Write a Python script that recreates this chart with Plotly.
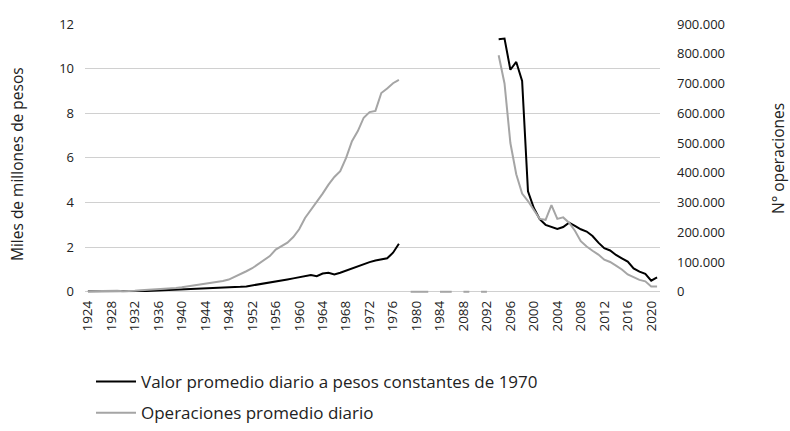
import plotly.graph_objects as go

years = list(range(1924, 2022))

# Valor promedio diario (miles de millones de pesos de 1970), left axis
valor_early = [0.02, 0.02, 0.03, 0.03, 0.03, 0.02, 0.0, 0.01, 0.02, 0.03,
               0.04, 0.05, 0.05, 0.06, 0.07, 0.08, 0.09, 0.10, 0.12, 0.13,
               0.14, 0.15, 0.15, 0.17, 0.20, 0.20, 0.22, 0.24, 0.28, 0.32,
               0.36, 0.40, 0.44, 0.50, 0.55, 0.60, 0.65, 0.68, 0.75, 0.70,
               0.82, 0.85, 0.78, 0.85, 0.95, 1.05, 1.15, 1.25, 1.33, 1.40,
               1.45, 1.50, 1.75, 2.15]  # 1924-1977
valor_late = [11.32, 11.35, 9.95, 10.3, 9.45, 4.5, 3.75, 3.25, 3.0, 2.9,
              2.82, 2.9, 3.1, 2.95, 2.8, 2.7, 2.5, 2.2, 1.95, 1.85,
              1.65, 1.5, 1.35, 1.05, 0.9, 0.8, 0.5, 0.65]  # 1994-2021

# Operaciones promedio diario, right axis
oper_early = [1500, 2000, 3500, 4500, 4500, 3500, 2000, 2000, 3500, 5000,
              6000, 7500, 8500, 10000, 11000, 13000, 15000, 18000, 21000, 24000,
              27000, 29000, 32000, 36000, 41000, 50000, 58000, 69000, 79000, 92000,
              105000, 120000, 142000, 154000, 165000, 184000, 210000, 248000, 274000, 300000,
              330000, 360000, 386000, 405000, 450000, 506000, 540000, 585000, 604000, 608000,
              668000, 683000, 701000, 712000]  # 1924-1977
oper_mid = [0, 0, 0, 0, None, 0, 0, 0, None, 0, 0, None, 0, 0, None]  # 1979-1993
oper_late = [795000, 700000, 500000, 395000, 330000, 305000, 275000, 245000, 242000, 291000,
             245000, 250000, 232000, 205000, 170000, 152000, 138000, 125000, 108000, 100000,
             88000, 75000, 58000, 50000, 40000, 35000, 18000, 18000]  # 1994-2021

tick_years = list(range(1924, 2021, 4))
tick_text = ["1924", "1928", "1932", "1936", "1940", "1944", "1948", "1952", "1956",
             "1960", "1964", "1968", "1972", "1976", "1980", "1984", "2088", "2092",
             "2096", "2000", "2004", "2008", "2012", "2016", "2020"]

valor = valor_early + [None] * 16 + valor_late
oper = oper_early + [None] + oper_mid + oper_late

BLACK = "#000000"
GRAY = "#a5a5a5"
FONT = "Open Sans"
TXT = "#222222"

fig = go.Figure()
fig.add_trace(go.Scatter(x=years, y=valor, mode="lines", connectgaps=False,
                         name="Valor promedio diario a pesos constantes de 1970",
                         legendgroup="a",
                         line=dict(color=BLACK, width=2)))
fig.add_trace(go.Scatter(x=years, y=oper, mode="lines", connectgaps=False, yaxis="y2",
                         name="Operaciones promedio diario", legendgroup="b",
                         line=dict(color=GRAY, width=2)))

fig.update_layout(
    width=790, height=431,
    margin=dict(l=85, r=130, t=24, b=137, autoexpand=False),
    paper_bgcolor="white", plot_bgcolor="white",
    separators=",.",
    font=dict(family=FONT, size=13, color=TXT),
    showlegend=True,
    legend=dict(orientation="v", xref="container", yref="container",
                x=91 / 790, xanchor="left", y=(431 - 364) / 431, yanchor="top",
                font=dict(family=FONT, size=17, color=TXT),
                itemwidth=40, tracegroupgap=6, bgcolor="rgba(0,0,0,0)"),
    xaxis=dict(range=[1923.5, 2021.5], tickmode="array", tickvals=tick_years,
               ticktext=tick_text, tickangle=-90, showgrid=False, zeroline=False,
               showline=False, ticks="", ticklabelstandoff=3,
               tickfont=dict(family=FONT, size=13.5, color=TXT)),
    yaxis=dict(range=[-0.1, 12], tick0=0, dtick=2, showgrid=True, gridcolor="#d0d0d0",
               gridwidth=1, zeroline=False, showline=False, ticks="", ticklabelstandoff=10,
               tickfont=dict(family=FONT, size=13, color=TXT)),
    yaxis2=dict(range=[-7500, 900000], tick0=0, dtick=100000, overlaying="y", side="right",
                showgrid=False, zeroline=False, showline=False, ticks="",
                tickformat=",d", ticklabelstandoff=16,
                tickfont=dict(family=FONT, size=13, color=TXT)),
    annotations=[
        dict(text="Miles de millones de pesos", textangle=-90, xref="paper", yref="paper",
             x=(17 - 85) / 575, y=(294 - 164) / 270, xanchor="center", yanchor="middle",
             showarrow=False, font=dict(family=FONT, size=15.5, color=TXT)),
        dict(text="N° operaciones", textangle=-90, xref="paper", yref="paper",
             x=(778 - 85) / 575, y=(294 - 159) / 270, xanchor="center", yanchor="middle",
             showarrow=False, font=dict(family=FONT, size=15.5, color=TXT)),
    ],
)

fig.write_html("out.html", config={"displayModeBar": False},
               post_script="document.body.style.margin='0px';document.body.style.overflow='hidden';")
